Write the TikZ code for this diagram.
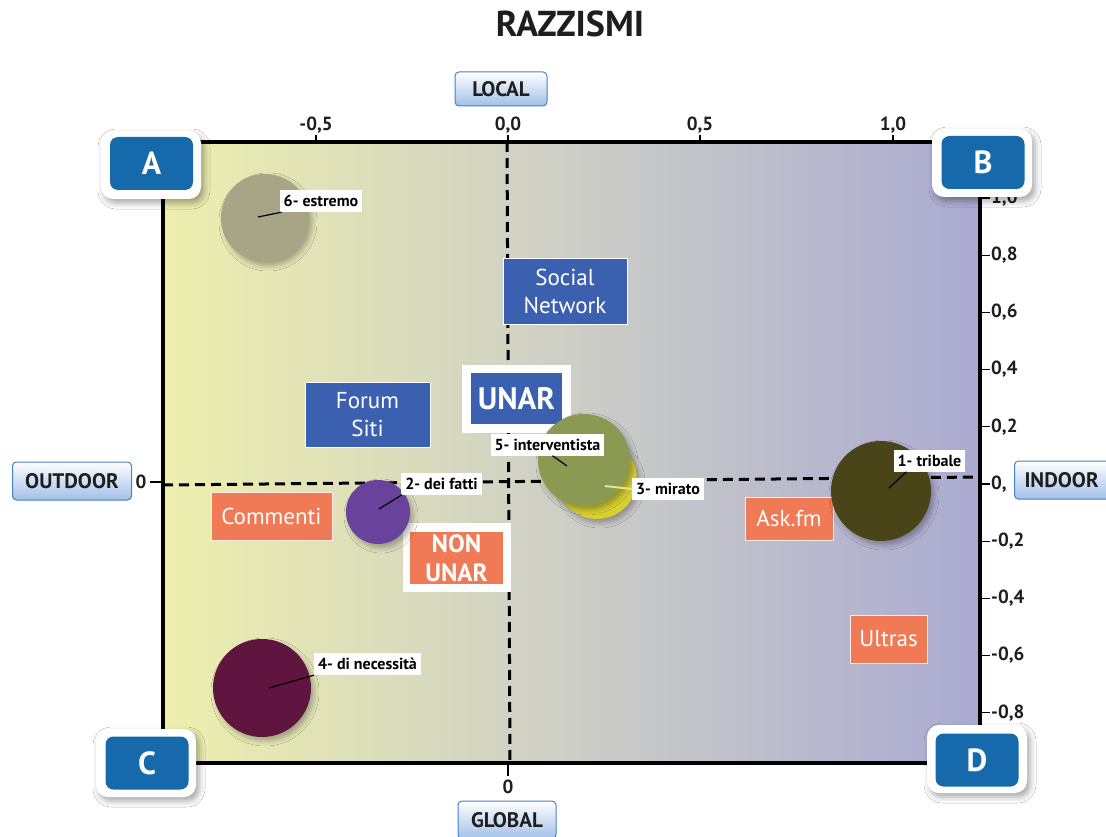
\documentclass[tikz,border=0pt]{standalone}
\usepackage{fontspec}
\setmainfont{PT Sans}
\usetikzlibrary{shadows.blur}
\definecolor{bgleft}{RGB}{237,239,174}
\definecolor{bgmid}{RGB}{205,206,198}
\definecolor{bgright}{RGB}{170,170,210}
\definecolor{cornerblue}{RGB}{22,106,171}
\definecolor{infoblue}{RGB}{59,96,176}
\definecolor{infoorange}{RGB}{239,122,85}
\definecolor{axblue}{RGB}{160,192,232}
\definecolor{axborder}{RGB}{70,130,200}
\definecolor{cestremo}{RGB}{168,165,134}
\definecolor{ctribale}{RGB}{74,69,25}
\definecolor{cinterv}{RGB}{138,154,82}
\definecolor{cmirato}{RGB}{215,208,48}
\definecolor{cfatti}{RGB}{104,66,155}
\definecolor{cneces}{RGB}{95,21,64}
\definecolor{txtdark}{RGB}{30,30,30}
\definecolor{leadyellow}{RGB}{232,228,140}
\tikzset{
  cornerout/.style={fill=white, rounded corners=12pt, minimum width=100pt, minimum height=68pt, inner sep=0pt,
    blur shadow={shadow xshift=3pt, shadow yshift=-4pt, shadow blur radius=6pt, shadow opacity=35}},
  cornerin/.style={fill=cornerblue, rounded corners=8pt, minimum width=83pt, minimum height=53pt, inner sep=0pt,
    text=white, font=\fontsize{32}{32}\selectfont\bfseries},
  axlab/.style={draw=axborder, line width=1pt, rounded corners=4pt, top color=white, bottom color=axblue,
    text=txtdark, font=\fontsize{21}{21}\selectfont\bfseries, minimum height=34pt, inner xsep=6pt},
  ticklab/.style={text=txtdark, font=\fontsize{19}{19}\selectfont\bfseries, inner sep=0pt},
  bubble/.style={circle, fill=#1, draw=none, inner sep=0pt,
    blur shadow={shadow xshift=3pt, shadow yshift=-4pt, shadow blur radius=5pt, shadow opacity=30}},
  bublab/.style={fill=white, text=black, font=\fontsize{16}{16}\selectfont\bfseries, minimum height=22pt, inner xsep=4pt, inner ysep=0pt},
  leader/.style={line width=1.2pt, black},
  infobox/.style={fill=infoblue, draw=white, line width=0.8pt, text=white, align=center,
    font=\fontsize{23}{28}\selectfont, inner sep=0pt},
  orangebox/.style={fill=infoorange, draw=white!85!infoorange, line width=1pt, text=white, align=center,
    font=\fontsize{23}{28}\selectfont, inner sep=0pt},
  whiteframe/.style={fill=white, inner sep=0pt},
  axisdash/.style={line width=3pt, dash pattern=on 10pt off 6pt},
  tick/.style={line width=1.2pt, black}
}
\begin{document}
\begin{tikzpicture}[x=1pt,y=-1pt]
\useasboundingbox (0,0) rectangle (1106,837);
\clip (0,0) rectangle (1106,837);
\fill[white] (0,0) rectangle (1106,837);

% title
\node[font=\fontsize{36}{36}\selectfont\bfseries, text=txtdark] (title) at (570,24) {RAZZISMI};

% plot background
\shade[left color=bgleft, right color=bgright, middle color=bgmid] (163,142) rectangle (980,763);

% dashed axes
\coordinate (hl) at (163,485);
\coordinate (hr) at (980,477);
\coordinate (vt) at (507,142);
\coordinate (vb) at (510,763);
\draw[axisdash] (hl) -- (hr);
\draw[axisdash] (vt) -- (vb);

% frame
\draw[line width=4pt] (163,142) rectangle (980,763);

% top ticks
\foreach \x/\l in {316/{-0,5}, 508/{0,0}, 700/{0,5}, 893/{1,0}} {
  \draw[tick] (\x,142) -- (\x,135);
  \node[ticklab] at (\x,125) {\l};
}
% right ticks
\foreach \v/\l in {1.0/{1,0}, 0.8/{0,8}, 0.6/{0,6}, 0.4/{0,4}, 0.2/{0,2}, 0/{0,}, -0.2/{-0,2}, -0.4/{-0,4}, -0.6/{-0,6}, -0.8/{-0,8}} {
  \draw[tick] (980,484-286*\v) -- (990,484-286*\v);
  \node[ticklab, anchor=west] at (991,484-286*\v) {\l};
}
% left tick
\draw[tick] (150,482) -- (163,482);
\node[ticklab] (zl) at (141,482) {0};
% bottom tick
\draw[tick] (508,763) -- (508,776);
\node[ticklab] (zb) at (508,787) {0};

% axis labels
\node[axlab, minimum width=92pt] (local) at (501,89) {LOCAL};
\node[axlab, minimum width=98pt, minimum height=38pt] (global) at (507,820) {GLOBAL};
\node[axlab, minimum width=119pt, minimum height=38pt] (outdoor) at (72,481) {OUTDOOR};
\node[axlab, anchor=west, minimum width=110pt, minimum height=38pt, inner xsep=7pt, text width=90pt] (indoor) at (1014,480) {INDOOR};

% info boxes
\node[infobox, minimum width=124pt, minimum height=66pt] (social) at (565,291) {Social\\Network};
\node[infobox, minimum width=125pt, minimum height=65pt] (forum) at (367.5,414.5) {Forum\\Siti};
\node[whiteframe, minimum width=109pt, minimum height=68pt] (unarframe) at (516.5,399) {};
\node[infobox, draw=none, minimum width=91pt, minimum height=51pt, font=\fontsize{31}{31}\selectfont\bfseries] (unar) at (516.5,398.5) {UNAR};

\node[orangebox, minimum width=121pt, minimum height=48pt] (commenti) at (271.5,516) {Commenti};
\node[whiteframe, minimum width=108pt, minimum height=69pt] (nonframe) at (457,557.5) {};
\node[orangebox, draw=none, minimum width=93pt, minimum height=52pt, font=\fontsize{25}{29}\selectfont\bfseries] (nonunar) at (456.5,558) {NON\\UNAR};
\node[orangebox, minimum width=88pt, minimum height=43pt] (askfm) at (789,518.5) {Ask.fm};
\node[orangebox, minimum width=77pt, minimum height=48pt] (ultras) at (888.5,639) {Ultras};

% bubbles
\node[bubble=cestremo, minimum size=88pt] (c6) at (265,218) {};
\node[bubble=ctribale, minimum size=100pt] (c1) at (881,491) {};
\node[bubble=cmirato, minimum size=80pt] (c3) at (597,479) {};
\node[bubble=cinterv, minimum size=92pt] (c5) at (584,460) {};
\node[bubble=cfatti, minimum size=64pt] (c2) at (378,512) {};
\node[bubble=cneces, minimum size=98pt] (c4) at (262,688) {};

% bubble labels
\node[bublab] (l6) at (321,201) {6- estremo};
\node[bublab] (l1) at (929.5,460.5) {1- tribale};
\node[bublab] (l5) at (547.5,444.5) {5- interventista};
\node[bublab] (l3) at (668,489) {3- mirato};
\node[bublab] (l2) at (441.5,483.5) {2- dei fatti};
\node[bublab] (l4) at (367.5,664) {4- di necessità};

% leaders
\coordinate (p6) at (258,217);
\coordinate (p1) at (889,488);
\coordinate (p5) at (567,466);
\coordinate (p3) at (605,486);
\coordinate (p2) at (379,509);
\coordinate (p4) at (269,688);
\draw[leader] (p6) -- ([xshift=2pt]l6.south west);
\draw[leader] (p1) -- ([xshift=13pt]l1.south west);
\draw[leader] (p5) -- ([xshift=62pt]l5.south west);
\draw[leader, leadyellow, line width=2pt] (p3) -- (l3.west);
\draw[leader] (p2) -- ([xshift=1pt]l2.south west);
\draw[leader] (p4) -- (l4.south west);

% corner boxes
\node[cornerout] (Aout) at (151,165) {};
\node[cornerin] (A) at (151.5,163.5) {A};
\node[cornerout] (Bout) at (982,163) {};
\node[cornerin] (B) at (983,162.5) {B};
\node[cornerout] (Cout) at (146,763) {};
\node[cornerin] (C) at (147,763) {C};
\node[cornerout] (Dout) at (977,759) {};
\node[cornerin] (D) at (977,760) {D};
\end{tikzpicture}
\end{document}
